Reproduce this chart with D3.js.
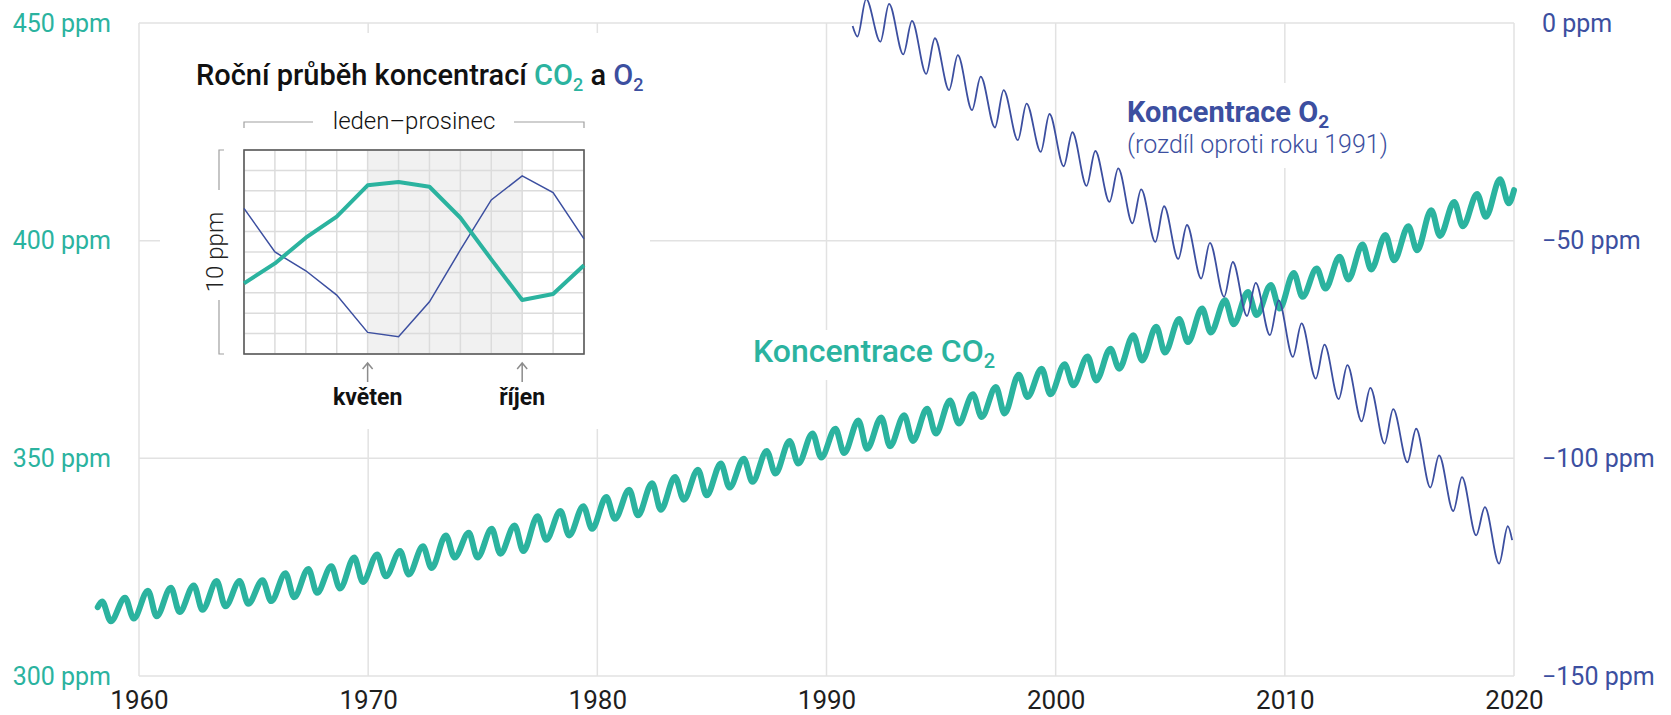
<html>
<head>
<meta charset="utf-8">
<style>
body { margin: 0; background: #fff; }
text { font-family: Roboto, "Noto Sans", sans-serif; }
.grid { stroke: #e2e2e2; stroke-width: 1.5px; }
.co2-line { stroke: #2bb39f; stroke-width: 6px; fill: none; stroke-linejoin: round; stroke-linecap: round; }
.o2-line { stroke: #3c4fa0; stroke-width: 1.8px; fill: none; stroke-linejoin: round; }
.inset-grid { stroke: #dcdcdc; stroke-width: 1.5px; }
.inset-frame { stroke: #5a5a5a; stroke-width: 1.6px; fill: none; }
.bracket { stroke: #a0a0a0; stroke-width: 1.2px; fill: none; }
.arrow { stroke: #8c8c8c; stroke-width: 1.5px; fill: none; }
</style>
</head>
<body></body>

<script src="https://d3js.org/d3.v7.min.js"></script>

<script>

// --- data ---
var yearTicks = [1960, 1970, 1980, 1990, 2000, 2010, 2020];
var co2Ticks = [300, 350, 400, 450];
var o2Ticks = [-150, -100, -50, 0];

// CO2: May maximum and October minimum of each year, ppm
var co2Years = d3.range(1958, 2020);
var co2Peak = [317.1, 318.0, 319.6, 320.3, 320.8, 321.8, 321.8, 322.0, 323.6, 324.6,
	325.2, 327.2, 327.9, 328.7, 329.8, 332.3, 332.9, 333.8, 334.6, 336.7,
	337.9, 339.0, 341.1, 342.8, 344.3, 345.7, 347.4, 348.8, 349.9, 351.7,
	354.0, 355.7, 356.8, 358.7, 359.4, 359.9, 361.4, 363.3, 364.7, 366.4,
	369.2, 370.6, 371.6, 373.4, 375.2, 378.3, 380.2, 382.0, 384.4, 386.3,
	388.2, 389.8, 392.6, 393.6, 396.3, 399.1, 401.3, 403.3, 407.0, 408.9,
	410.7, 414.1];
var co2Trough = [312.6, 313.2, 313.7, 314.7, 315.2, 316.0, 316.6, 317.2, 318.1, 319.1,
	320.1, 321.6, 322.9, 323.3, 324.8, 327.2, 327.2, 328.1, 328.7, 331.3,
	332.3, 333.8, 336.1, 336.9, 338.2, 340.5, 341.5, 343.3, 344.6, 346.5,
	348.8, 350.2, 351.2, 352.2, 352.8, 354.0, 355.7, 358.0, 359.5, 360.3,
	364.1, 364.7, 366.8, 367.9, 370.6, 372.5, 374.3, 376.7, 378.9, 380.8,
	382.9, 384.4, 387.1, 389.0, 391.1, 393.4, 395.5, 397.8, 401.1, 403.3,
	405.5, 408.6];
var co2First = {t: 1958.2, v: 315.8};
var co2Last = {t: 2020.0, v: 411.6};

// O2: difference against 1991, ppm; spring minimum and autumn maximum
var o2Years = d3.range(1991, 2020);
var o2Trough = [-3.1, -4.3, -7.2, -11.7, -15.4, -20.0, -24.0, -26.9, -29.6, -32.9,
	-37.4, -41.1, -46.0, -50.3, -54.2, -58.7, -62.9, -67.3, -71.7, -76.7,
	-81.7, -86.4, -91.5, -96.6, -100.9, -106.7, -112.1, -117.7, -124.2];
var o2Peak = [5.5, 4.4, 0.5, -3.5, -7.4, -12.3, -15.4, -18.5, -20.9, -25.1,
	-29.4, -33.4, -38.2, -42.1, -46.4, -50.5, -54.9, -59.7, -63.7, -69.0,
	-73.9, -78.6, -83.8, -88.7, -93.2, -99.3, -104.3, -111.2, -115.6];
var o2First = {t: 1991.14, v: -0.7};
var o2Last = {t: 2019.92, v: -118.8};

// inset: one year, Jan..Dec, on a 10 ppm scale
var insetMonths = ["leden", "únor", "březen", "duben", "květen", "červen",
	"červenec", "srpen", "září", "říjen", "listopad", "prosinec"];
var insetCO2 = [3.46, 4.44, 5.70, 6.73, 8.27, 8.43, 8.20, 6.68, 4.64, 2.65, 2.94, 4.35];
var insetO2 = [7.14, 5.00, 4.08, 2.89, 1.06, 0.85, 2.56, 5.10, 7.55, 8.73, 7.91, 5.64];
var insetMarked = ["květen", "říjen"];

// --- layout ---
var canvasWidth = 1671;
var canvasHeight = 715;
var teal = "#2bb39f";
var blue = "#3c4fa0";

var co2PeakOffset = 0.39, co2TroughOffset = 0.77;
var o2PeakOffset = 0.73, o2TroughOffset = 0.35;

var svgContainer = d3.select("body").append("svg")
	.attr("width", canvasWidth)
	.attr("height", canvasHeight)

var x = d3.scaleLinear().domain([1960, 2020]).range([139, 1514]);
var yLeft = d3.scaleLinear().domain([300, 450]).range([676, 23]);
var yRight = d3.scaleLinear().domain([-150, 0]).range([676, 23]);

// grid
var gridGroup = svgContainer.append("g")
gridGroup.selectAll("line.v").data(yearTicks).enter().append("line")
	.attr("class", "grid")
	.attr("x1", function(d) { return x(d); })
	.attr("x2", function(d) { return x(d); })
	.attr("y1", yLeft(450))
	.attr("y2", yLeft(300))
gridGroup.selectAll("line.h").data(co2Ticks).enter().append("line")
	.attr("class", "grid")
	.attr("x1", x(1960))
	.attr("x2", x(2020))
	.attr("y1", function(d) { return yLeft(d); })
	.attr("y2", function(d) { return yLeft(d); })

// white patches behind inset and labels
svgContainer.append("rect").attr("x", 160).attr("y", 33).attr("width", 490).attr("height", 396).attr("fill", "#fff")
svgContainer.append("rect").attr("x", 745).attr("y", 330).attr("width", 255).attr("height", 50).attr("fill", "#fff")
svgContainer.append("rect").attr("x", 1120).attr("y", 83).attr("width", 280).attr("height", 85).attr("fill", "#fff")

// axes labels
var axisLeft = svgContainer.append("g")
	.attr("transform", "translate(" + x(1960) + ",0)")
	.call(d3.axisLeft(yLeft).tickValues(co2Ticks).tickSize(0).tickPadding(28)
		.tickFormat(function(d) { return d + " ppm"; }))
axisLeft.select(".domain").remove()
axisLeft.selectAll("text").attr("font-size", 25).attr("font-family", "Roboto").attr("fill", teal)

var axisRight = svgContainer.append("g")
	.attr("transform", "translate(" + x(2020) + ",0)")
	.call(d3.axisRight(yRight).tickValues(o2Ticks).tickSize(0).tickPadding(28)
		.tickFormat(function(d) { return (d < 0 ? "\u2212" + Math.abs(d) : d) + " ppm"; }))
axisRight.select(".domain").remove()
axisRight.selectAll("text").attr("font-size", 25).attr("font-family", "Roboto").attr("fill", blue)

var axisBottom = svgContainer.append("g")
	.attr("transform", "translate(0," + yLeft(300) + ")")
	.call(d3.axisBottom(x).tickValues(yearTicks).tickSize(0).tickPadding(15)
		.tickFormat(function(d) { return d; }))
axisBottom.select(".domain").remove()
axisBottom.selectAll("text").attr("font-size", 26).attr("font-family", "Roboto").attr("fill", "#1e1e1e")

// series
var co2Points = [co2First]
co2Years.forEach(function(year, i) {
	co2Points.push({t: year + co2PeakOffset, v: co2Peak[i]})
	co2Points.push({t: year + co2TroughOffset, v: co2Trough[i]})
})
co2Points.push(co2Last)

var o2Points = [o2First]
o2Years.forEach(function(year, i) {
	o2Points.push({t: year + o2TroughOffset, v: o2Trough[i]})
	o2Points.push({t: year + o2PeakOffset, v: o2Peak[i]})
})
o2Points.push(o2Last)

var co2Line = d3.line()
	.x(function(d) { return x(d.t); })
	.y(function(d) { return yLeft(d.v); })
	.curve(d3.curveMonotoneX)
var o2Line = d3.line()
	.x(function(d) { return x(d.t); })
	.y(function(d) { return yRight(d.v); })
	.curve(d3.curveMonotoneX)

svgContainer.append("path").attr("d", co2Line(co2Points)).attr("class", "co2-line")
svgContainer.append("path").attr("d", o2Line(o2Points)).attr("class", "o2-line")

// series labels
var co2Label = svgContainer.append("text").attr("x", 753).attr("y", 362)
	.attr("font-size", 32).attr("font-weight", 500).attr("fill", teal)
co2Label.append("tspan").text("Koncentrace CO")
co2Label.append("tspan").text("2").attr("font-size", 20).attr("dy", 6)

var o2Label = svgContainer.append("text").attr("x", 1127).attr("y", 122)
	.attr("font-size", 29).attr("font-weight", 700).attr("fill", blue)
o2Label.append("tspan").text("Koncentrace O")
o2Label.append("tspan").text("2").attr("font-size", 19).attr("dy", 6)
svgContainer.append("text").attr("x", 1127).attr("y", 153)
	.attr("font-size", 25).attr("font-weight", 300).attr("fill", blue)
	.text("(rozdíl oproti roku 1991)")

// --- inset ---
var insetGroup = svgContainer.append("g")
var ix = d3.scaleLinear().domain([0, 11]).range([244, 584]);
var iy = d3.scaleLinear().domain([0, 10]).range([354, 150]);

var title = insetGroup.append("text").attr("x", 196).attr("y", 85)
	.attr("font-size", 29).attr("font-weight", 500).attr("fill", "#111")
title.append("tspan").text("Roční průběh koncentrací ")
title.append("tspan").text("CO").attr("fill", teal)
title.append("tspan").text("2").attr("fill", teal).attr("font-size", 18).attr("dy", 6)
title.append("tspan").text(" a ").attr("dy", -6)
title.append("tspan").text("O").attr("fill", blue)
title.append("tspan").text("2").attr("fill", blue).attr("font-size", 18).attr("dy", 6)

// top bracket
insetGroup.append("path").attr("class", "bracket")
	.attr("d", "M" + ix(0) + ",128V122H313M514,122H" + ix(11) + "V128")
insetGroup.append("text").attr("x", (ix(0) + ix(11)) / 2).attr("y", 129)
	.attr("text-anchor", "middle").attr("font-size", 24).attr("font-weight", 300).attr("fill", "#111")
	.text("leden–prosinec")

// left bracket
insetGroup.append("path").attr("class", "bracket")
	.attr("d", "M224," + iy(10) + "H219V190M219,300V" + iy(0) + "H224")
insetGroup.append("text")
	.attr("transform", "translate(223," + (iy(10) + iy(0)) / 2 + ") rotate(-90)")
	.attr("text-anchor", "middle").attr("font-size", 24).attr("font-weight", 300).attr("fill", "#222")
	.text("10 ppm")

// shaded months
var markIdx = insetMarked.map(function(m) { return insetMonths.indexOf(m); })
insetGroup.append("rect")
	.attr("x", ix(markIdx[0])).attr("y", iy(10))
	.attr("width", ix(markIdx[1]) - ix(markIdx[0])).attr("height", iy(0) - iy(10))
	.attr("fill", "#f1f1f1")

insetGroup.selectAll("line.iv").data(insetMonths).enter().append("line")
	.attr("class", "inset-grid")
	.attr("x1", function(d, i) { return ix(i); })
	.attr("x2", function(d, i) { return ix(i); })
	.attr("y1", iy(10)).attr("y2", iy(0))
insetGroup.selectAll("line.ih").data(d3.range(0, 11)).enter().append("line")
	.attr("class", "inset-grid")
	.attr("x1", ix(0)).attr("x2", ix(11))
	.attr("y1", function(d) { return iy(d); })
	.attr("y2", function(d) { return iy(d); })
insetGroup.append("rect").attr("class", "inset-frame")
	.attr("x", ix(0)).attr("y", iy(10))
	.attr("width", ix(11) - ix(0)).attr("height", iy(0) - iy(10))

var insetLine = d3.line()
	.x(function(d, i) { return ix(i); })
	.y(function(d) { return iy(d); })
insetGroup.append("path").attr("d", insetLine(insetO2))
	.attr("fill", "none").attr("stroke", blue).attr("stroke-width", 1.5)
insetGroup.append("path").attr("d", insetLine(insetCO2))
	.attr("fill", "none").attr("stroke", teal).attr("stroke-width", 4).attr("stroke-linejoin", "round")

// arrows + month names
markIdx.forEach(function(idx) {
	var ax = ix(idx)
	insetGroup.append("path").attr("class", "arrow")
		.attr("d", "M" + ax + ",382V364M" + (ax - 5) + ",369L" + ax + ",363L" + (ax + 5) + ",369")
	insetGroup.append("text").attr("x", ax).attr("y", 405)
		.attr("text-anchor", "middle").attr("font-size", 23).attr("font-weight", 700).attr("fill", "#111")
		.text(insetMonths[idx])
})

</script>
</html>
